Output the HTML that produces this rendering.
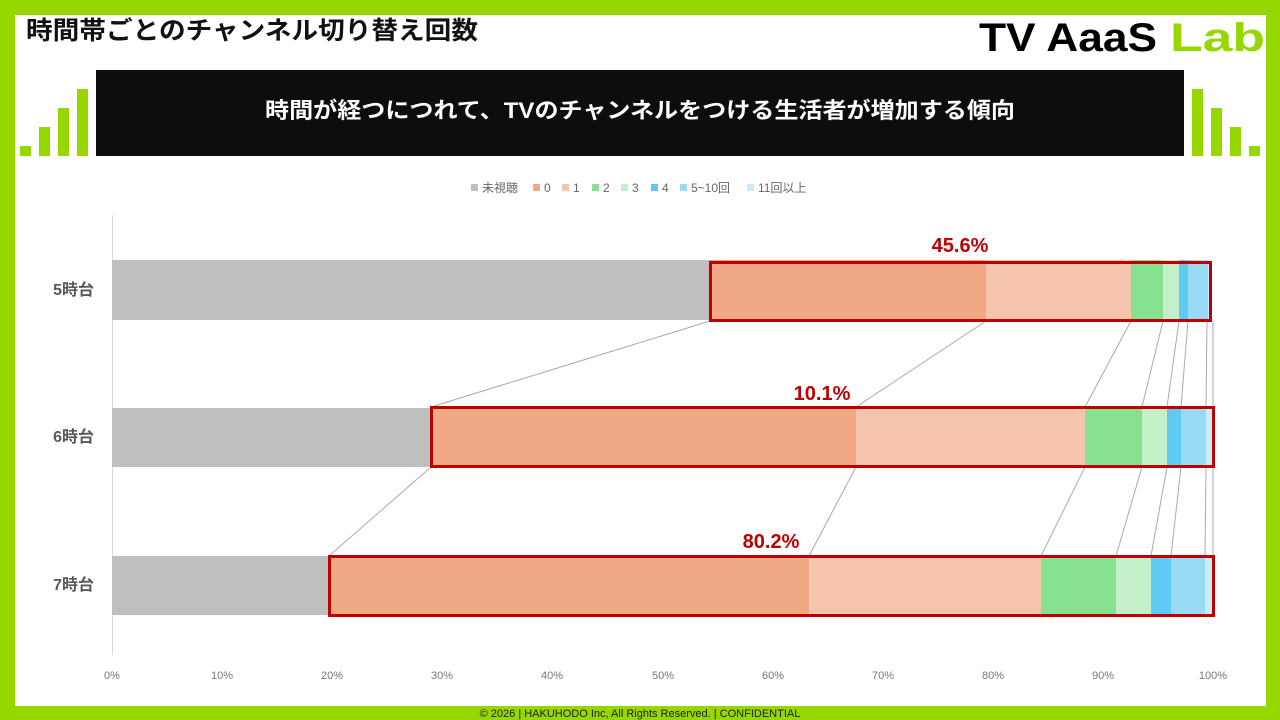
<!DOCTYPE html>
<html><head><meta charset="utf-8"><style>
body{margin:0;width:1280px;height:720px;overflow:hidden;background:#97d700;font-family:"Liberation Sans","Noto Sans CJK JP",sans-serif}
#w{position:absolute;left:15px;top:15px;width:1251px;height:691px;background:#fff}
</style></head><body>
<div id="w"></div>
<svg width="1280" height="720" style="position:absolute;left:0;top:0" font-family="Liberation Sans, Noto Sans CJK JP, sans-serif">
<text x="26" y="39" font-size="25" font-weight="bold" fill="#111" textLength="452" lengthAdjust="spacingAndGlyphs">時間帯ごとのチャンネル切り替え回数</text>
<text x="979" y="51" font-size="40" font-weight="bold" fill="#000" textLength="178" lengthAdjust="spacingAndGlyphs">TV AaaS</text>
<text x="1170" y="51" font-size="40" font-weight="bold" fill="#97d700" textLength="95" lengthAdjust="spacingAndGlyphs">Lab</text>
<g fill="#97d700">
<rect x="20" y="146" width="11" height="10"/><rect x="39" y="127" width="11" height="29"/><rect x="58" y="108" width="11" height="48"/><rect x="77" y="89" width="11" height="67"/>
<rect x="1192" y="89" width="11" height="67"/><rect x="1211" y="108" width="11" height="48"/><rect x="1230" y="127" width="11" height="29"/><rect x="1249" y="146" width="11" height="10"/>
</g>
<rect x="96" y="70" width="1088" height="86" fill="#0d0d0d"/>
<text x="265" y="118" font-size="22" font-weight="bold" fill="#fff" textLength="750" lengthAdjust="spacingAndGlyphs">時間が経つにつれて、TVのチャンネルをつける生活者が増加する傾向</text>
<g font-size="12" fill="#666">
<rect x="471" y="184" width="7" height="7" fill="#bfbfbf"/><text x="482" y="192">未視聴</text>
<rect x="533" y="184" width="7" height="7" fill="#f1a985"/><text x="544" y="192">0</text>
<rect x="562" y="184" width="7" height="7" fill="#f5c6ad"/><text x="573" y="192">1</text>
<rect x="592" y="184" width="7" height="7" fill="#86e290"/><text x="603" y="192">2</text>
<rect x="621" y="184" width="7" height="7" fill="#c3f0c8"/><text x="632" y="192">3</text>
<rect x="651" y="184" width="7" height="7" fill="#5fcbf2"/><text x="662" y="192">4</text>
<rect x="680" y="184" width="7" height="7" fill="#99dbf7"/><text x="691" y="192">5~10回</text>
<rect x="747" y="184" width="7" height="7" fill="#c9eefb"/><text x="758" y="192">11回以上</text>
</g>
<line x1="112.5" y1="215" x2="112.5" y2="655" stroke="#d9d9d9"/>
<g id="bars">
<g transform="translate(0,260)">
<rect x="112" width="598" height="60" fill="#bfbfbf"/><rect x="710" width="276" height="60" fill="#f1a985"/><rect x="986" width="145" height="60" fill="#f5c6ad"/><rect x="1131" width="32" height="60" fill="#86e290"/><rect x="1163" width="16" height="60" fill="#c3f0c8"/><rect x="1179" width="9" height="60" fill="#5fcbf2"/><rect x="1188" width="20" height="60" fill="#99dbf7"/><rect x="1208" width="3" height="60" fill="#c9eefb"/>
</g>
<g transform="translate(0,408)">
<rect x="112" width="319" height="59" fill="#bfbfbf"/><rect x="431" width="425" height="59" fill="#f1a985"/><rect x="856" width="229" height="59" fill="#f5c6ad"/><rect x="1085" width="57" height="59" fill="#86e290"/><rect x="1142" width="25" height="59" fill="#c3f0c8"/><rect x="1167" width="14" height="59" fill="#5fcbf2"/><rect x="1181" width="25" height="59" fill="#99dbf7"/><rect x="1206" width="7" height="59" fill="#c9eefb"/>
</g>
<g transform="translate(0,556)">
<rect x="112" width="217" height="59" fill="#bfbfbf"/><rect x="329" width="480" height="59" fill="#f1a985"/><rect x="809" width="232" height="59" fill="#f5c6ad"/><rect x="1041" width="75" height="59" fill="#86e290"/><rect x="1116" width="35" height="59" fill="#c3f0c8"/><rect x="1151" width="20" height="59" fill="#5fcbf2"/><rect x="1171" width="34" height="59" fill="#99dbf7"/><rect x="1205" width="8" height="59" fill="#c9eefb"/>
</g>
</g>
<g stroke="#aaa" stroke-width="1">
<line x1="710" y1="321" x2="431" y2="407"/><line x1="986" y1="321" x2="856" y2="407"/><line x1="1131" y1="321" x2="1085" y2="407"/><line x1="1163" y1="321" x2="1142" y2="407"/><line x1="1179" y1="321" x2="1167" y2="407"/><line x1="1188" y1="321" x2="1181" y2="407"/><line x1="1207" y1="321" x2="1206" y2="407"/><line x1="1213" y1="321" x2="1213" y2="407"/>
<line x1="431" y1="467" x2="329" y2="556"/><line x1="856" y1="467" x2="809" y2="556"/><line x1="1085" y1="467" x2="1041" y2="556"/><line x1="1142" y1="467" x2="1116" y2="556"/><line x1="1167" y1="467" x2="1151" y2="556"/><line x1="1181" y1="467" x2="1171" y2="556"/><line x1="1206" y1="467" x2="1205" y2="556"/><line x1="1213" y1="467" x2="1213" y2="556"/>
</g>
<g fill="none" stroke="#c00000" stroke-width="3">
<rect x="710.5" y="262.5" width="500" height="58"/><rect x="431.5" y="407.5" width="782" height="59"/><rect x="329.5" y="556.5" width="884" height="59"/>
</g>
<g fill="#c00000" font-size="20" font-weight="bold" text-anchor="middle">
<text x="960" y="252">45.6%</text><text x="822" y="400">10.1%</text><text x="771" y="548">80.2%</text>
</g>
<g fill="#595959" font-size="16" font-weight="bold" text-anchor="end">
<text x="94" y="295">5時台</text><text x="94" y="442">6時台</text><text x="94" y="590">7時台</text>
</g>
<g fill="#777" font-size="11" text-anchor="middle">
<text x="112" y="679">0%</text><text x="222" y="679">10%</text><text x="332" y="679">20%</text><text x="442" y="679">30%</text><text x="552" y="679">40%</text><text x="663" y="679">50%</text><text x="773" y="679">60%</text><text x="883" y="679">70%</text><text x="993" y="679">80%</text><text x="1103" y="679">90%</text><text x="1213" y="679">100%</text>
</g>
<text x="640" y="717" font-size="11" fill="#222" text-anchor="middle">© 2026 | HAKUHODO Inc, All Rights Reserved. | CONFIDENTIAL</text>
</svg>
</body></html>
